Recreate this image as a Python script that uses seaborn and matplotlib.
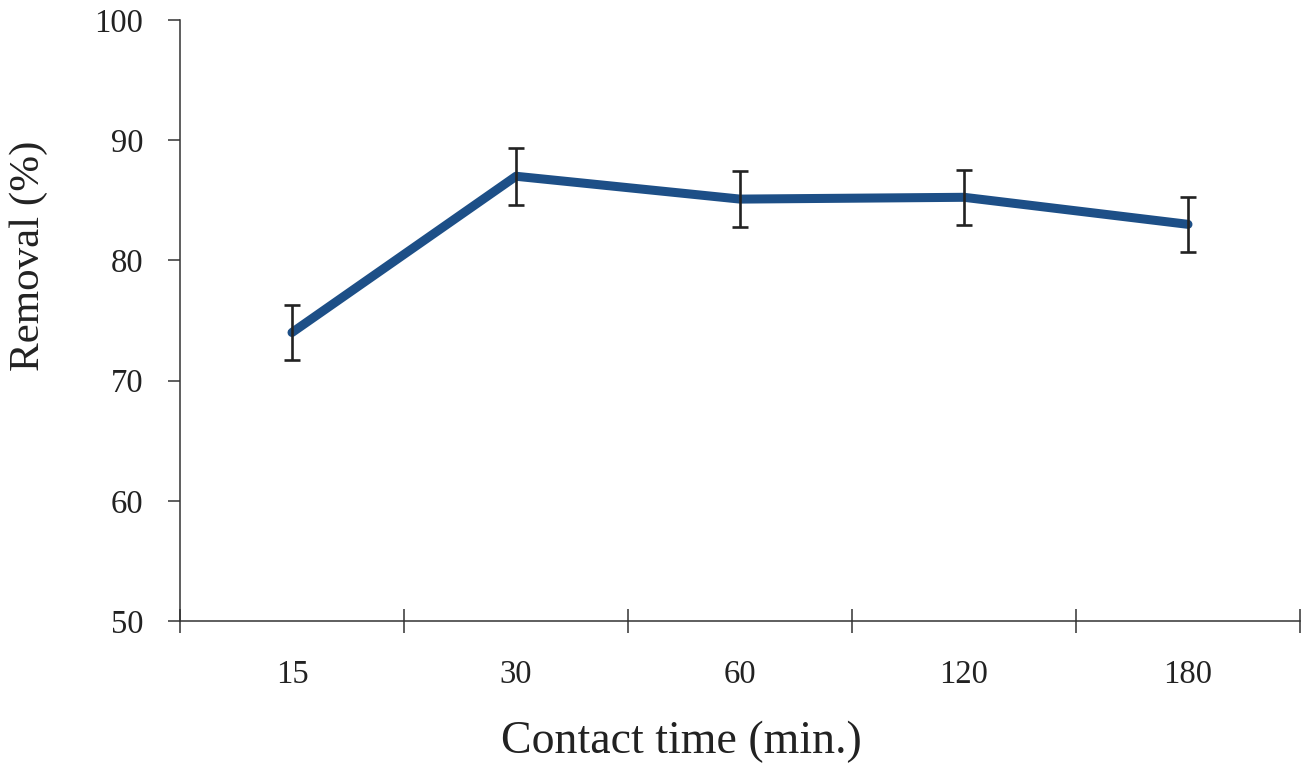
import matplotlib
matplotlib.use("Agg")
import matplotlib.pyplot as plt
import seaborn as sns
import pandas as pd
import numpy as np

categories = ["15", "30", "60", "120", "180"]
removal = [74.0, 87.0, 85.1, 85.25, 83.0]
errors = [2.3, 2.35, 2.3, 2.3, 2.3]
y_ticks = [50, 60, 70, 80, 90, 100]

sns.set_theme(style="white")
plt.rcParams['font.family'] = ['Liberation Serif', 'DejaVu Serif']

df = pd.DataFrame({"time": categories, "removal": removal})

fig = plt.figure(figsize=(13.01, 7.63), dpi=100)
ax = fig.add_axes([180/1301, 1 - 621/763, 1120/1301, 601/763])

sns.lineplot(data=df, x="time", y="removal", ax=ax, color="#1d4f87",
             linewidth=6.5, solid_capstyle="round", solid_joinstyle="round", sort=False)
ax.errorbar(categories, removal, yerr=errors, fmt="none", ecolor="#222222",
            elinewidth=1.9, capsize=6, capthick=1.9, zorder=3)

ax.set_xlim(-0.5, len(categories) - 0.5)
ax.set_ylim(50, 100)
ax.set_yticks(y_ticks)
ax.set_yticklabels([str(t) for t in y_ticks])

ax.set_xticks(range(len(categories)))
ax.set_xticklabels(categories)
ax.set_xticks(np.arange(-0.5, len(categories)), minor=True)
ax.tick_params(axis="x", which="major", length=0, pad=28, labelsize=23.5, colors="#222222")
ax.tick_params(axis="x", which="minor", direction="inout", length=17, width=1.1, color="#333333", bottom=True)
ax.tick_params(axis="y", which="major", direction="out", length=8.5, width=1.1, color="#333333",
               left=True, pad=18, labelsize=23.5, labelcolor="#222222")

for s in ["top", "right"]:
    ax.spines[s].set_visible(False)
for s in ["left", "bottom"]:
    ax.spines[s].set_color("#333333")
    ax.spines[s].set_linewidth(1.1)

ax.set_xlabel("Contact time (min.)", fontsize=33, color="#222222")
ax.set_ylabel("Removal (%)", fontsize=31, color="#222222")
ax.xaxis.set_label_coords((681 - 180) / 1120, (621 - 721) / 601)
ax.yaxis.set_label_coords((48 - 180) / 1120, (621 - 256) / 601)

fig.savefig("out.png", dpi=100, facecolor="white")
